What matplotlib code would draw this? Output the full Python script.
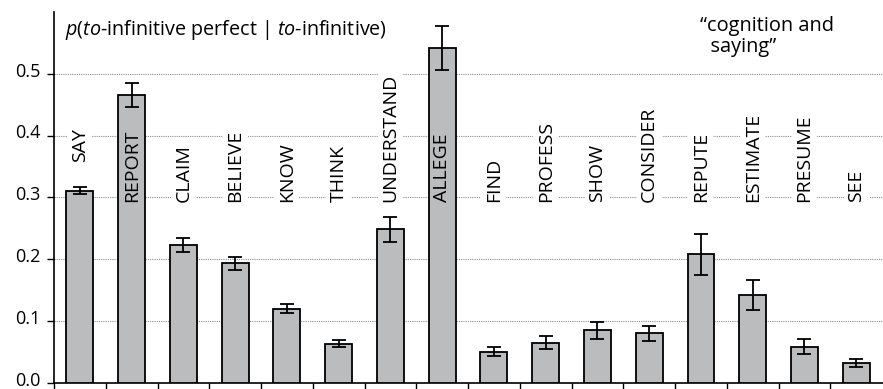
import numpy as np
import matplotlib
matplotlib.use("Agg")
import matplotlib.pyplot as plt
import matplotlib.transforms as mtransforms

plt.rcParams["font.family"] = ["Open Sans", "DejaVu Sans"]
plt.rcParams["mathtext.fontset"] = "custom"
plt.rcParams["mathtext.rm"] = "Open Sans"
plt.rcParams["mathtext.it"] = "Open Sans:italic"

verbs = ["SAY", "REPORT", "CLAIM", "BELIEVE", "KNOW", "THINK", "UNDERSTAND", "ALLEGE",
         "FIND", "PROFESS", "SHOW", "CONSIDER", "REPUTE", "ESTIMATE", "PRESUME", "SEE"]
prop = [0.311, 0.466, 0.223, 0.193, 0.120, 0.063, 0.248, 0.542,
        0.050, 0.065, 0.085, 0.080, 0.208, 0.142, 0.058, 0.032]
err = [0.006, 0.019, 0.012, 0.011, 0.007, 0.006, 0.020, 0.036,
       0.007, 0.011, 0.014, 0.012, 0.033, 0.025, 0.012, 0.006]
yticks = [0.0, 0.1, 0.2, 0.3, 0.4, 0.5]

fig = plt.figure(figsize=(8.83, 3.89), dpi=100)
ax = fig.add_axes([0.0612, 0.0162, 0.9378, 0.953])

x = np.arange(len(verbs))
ax.bar(x, prop, width=0.52, color="#bbbcbe", edgecolor="black", linewidth=1.3, zorder=3)
ax.errorbar(x, prop, yerr=err, fmt="none", ecolor="black", elinewidth=1.3,
            capsize=5, capthick=1.3, zorder=4)

# dotted horizontal grid, running past the last category to the edge
for v in yticks[1:]:
    ax.axhline(v, color="#8c8c8c", linestyle=(0, (1, 1)), linewidth=0.8, zorder=1,
               clip_on=False, xmax=1.01)

# verb labels: sit on a common base line, inside tall bars, above short bars that reach it
base = 0.293
for xi, name, v, e in zip(x, verbs, prop, err):
    y = base
    box = dict(facecolor="white", edgecolor="none", pad=2.5)
    if v - e > base + 0.12:
        box = None
    elif v + e > base:
        y = v + e + 0.04
    ax.text(xi, y, name, rotation=90, ha="center", va="bottom", fontsize=14,
            bbox=box, zorder=2 if box else 5)

ax.set_xlim(-0.5, len(verbs) - 0.5)
ax.set_ylim(0, 0.60)
ax.set_yticks(yticks)
ax.set_yticklabels([f"{v:.1f}" for v in yticks], fontsize=13)
ax.set_xticks([])
ax.set_xticks(np.arange(len(verbs)) - 0.5, minor=True)
ax.tick_params(axis="x", which="minor", direction="out", length=6, width=1, labelbottom=False)
ax.tick_params(axis="y", direction="out", length=5, width=1, pad=5)

# nudge the y labels up a little so "0.0" stays inside the figure
shift = mtransforms.ScaledTranslation(0, 3 / 72, fig.dpi_scale_trans)
for lbl in ax.get_yticklabels():
    lbl.set_transform(lbl.get_transform() + shift)

for side in ["top", "right"]:
    ax.spines[side].set_visible(False)
for side in ["left", "bottom"]:
    ax.spines[side].set_linewidth(1.2)
ax.spines["bottom"].set_bounds(-0.5, len(verbs) - 0.45)

ax.text(0.013, 0.985, r"$\mathit{p}$($\mathit{to}$-infinitive perfect | $\mathit{to}$-infinitive)",
        transform=ax.transAxes, ha="left", va="top", fontsize=14.2)
ax.text(0.78, 0.99, "\u201ccognition and\n  saying\u201d", transform=ax.transAxes,
        ha="left", va="top", fontsize=14.4, linespacing=1.1)

fig.savefig("out.png", dpi=100, facecolor="white")
